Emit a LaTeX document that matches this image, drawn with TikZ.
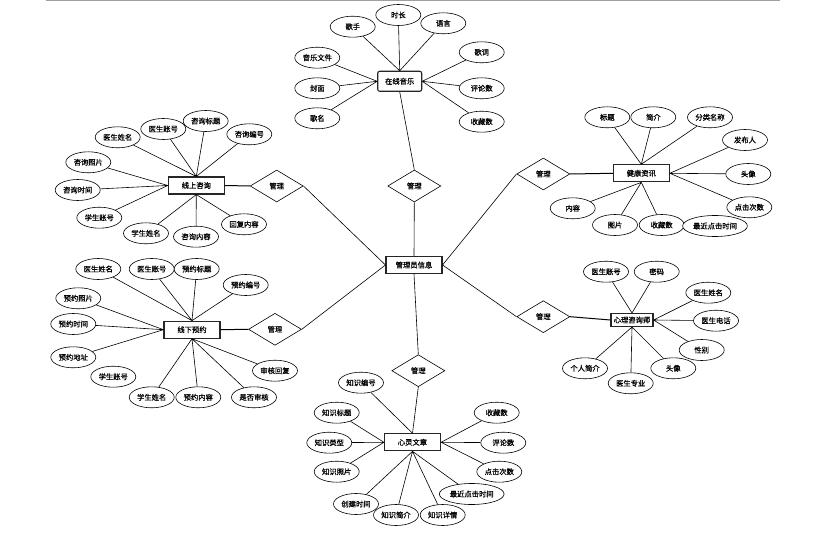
\documentclass[tikz,border=0pt]{standalone}
\usepackage{fontspec}
\newfontfamily\cjk[FakeBold=0.8]{Noto Sans CJK SC}
\usetikzlibrary{shapes.geometric}

\tikzset{
  cjktext/.style={font=\cjk\fontsize{7.3}{8}\selectfont},
  entity/.style={cjktext,draw=black!85,line width=1.1pt,fill=white,minimum width=56pt,minimum height=17pt,inner sep=1pt},
  attr/.style={cjktext,ellipse,draw,line width=0.6pt,fill=white,minimum width=45pt,minimum height=21pt,inner sep=1pt},
  rel/.style={cjktext,diamond,draw,line width=0.6pt,fill=white,minimum width=53pt,minimum height=32pt,inner sep=0pt},
  link/.style={line width=0.6pt}
}

\begin{document}
\begin{tikzpicture}[x=1pt,y=-1pt]
  \useasboundingbox (0,0) rectangle (840,534);
  \draw[gray!75,line width=2pt] (46,0.5) -- (780,0.5);

  % centre
  \node at (414,265) [entity] (admin) {管理员信息};

  \node at (414.3,186) [rel] (mgMusic) {管理};
  \node at (276.7,186) [rel] (mgOnline) {管理};
  \node at (275,329.3) [rel] (mgOffline) {管理};
  \node at (543.3,174) [rel] (mgHealth) {管理};
  \node at (543.3,316.7) [rel] (mgDoctor) {管理};
  \node at (418.3,370.7) [rel] (mgArticle) {管理};

  \draw[link] (admin.north) -- (mgMusic.south);
  \draw[link] (admin.west) -- (mgOnline.east);
  \draw[link] (admin.west) -- (mgOffline.east);
  \draw[link] (admin.east) -- (mgHealth.west);
  \draw[link] (admin.east) -- (mgDoctor.west);
  \draw[link] (admin.south) -- (mgArticle.north);

  % music
  \node at (399.7,81.3) [entity,rounded corners=2pt,minimum width=44pt,minimum height=20pt] (music) {在线音乐};
  \draw[link] (mgMusic.north) -- (music.south);

  \node at (352.7,26.7) [attr] (mSinger) {歌手};
  \node at (398.3,15) [attr] (mLength) {时长};
  \node at (443.3,23.3) [attr] (mLang) {语言};
  \node at (317.3,57.7) [attr] (mFile) {音乐文件};
  \node at (317.3,88.3) [attr] (mCover) {封面};
  \node at (317.3,118.3) [attr] (mName) {歌名};
  \node at (481.7,52.3) [attr] (mLyric) {歌词};
  \node at (481.7,88.3) [attr] (mComment) {评论数};
  \node at (481.7,121.7) [attr] (mFav) {收藏数};

  \draw[link] (music.north) -- (mSinger) (music.north) -- (mLength) (music.north) -- (mLang);
  \draw[link] (music.west) -- (mFile) (music.west) -- (mCover) (music.west) -- (mName);
  \draw[link] (music.east) -- (mLyric) (music.east) -- (mComment) (music.east) -- (mFav);

  % online consulting
  \node at (196.3,185.5) [entity] (online) {线上咨询};
  \draw[link,line width=1pt] (online.east) -- (mgOnline.west);

  \node at (117.7,137.3) [attr] (oDocName) {医生姓名};
  \node at (163.3,129) [attr] (oDocId) {医生账号};
  \node at (205.7,121) [attr] (oTitle) {咨询标题};
  \node at (249.3,134.3) [attr] (oNo) {咨询编号};
  \node at (88.3,162.3) [attr] (oPhoto) {咨询照片};
  \node at (77.7,190) [attr] (oTime) {咨询时间};
  \node at (99.3,217.7) [attr] (oStuId) {学生账号};
  \node at (146,233.3) [attr] (oStuName) {学生姓名};
  \node at (196,236.7) [attr] (oContent) {咨询内容};
  \node at (244,224.3) [attr] (oReply) {回复内容};

  \draw[link] (online.north) -- (oDocName) (online.north) -- (oDocId) (online.north) -- (oTitle) (online.north) -- (oNo);
  \draw[link] (online.west) -- (oPhoto) (online.west) -- (oTime) (online.west) -- (oStuId);
  \draw[link] (online.south) -- (oStuName) (online.south) -- (oContent) (online.south) -- (oReply);

  % offline appointment
  \node at (192,329.7) [entity] (offline) {线下预约};
  \draw[link,line width=1pt] (offline.east) -- (mgOffline.west);

  \node at (98.3,269) [attr] (fDocName) {医生姓名};
  \node at (151.7,269) [attr] (fDocId) {医生账号};
  \node at (196.7,269) [attr] (fTitle) {预约标题};
  \node at (245.7,285) [attr] (fNo) {预约编号};
  \node at (78.3,298.3) [attr] (fPhoto) {预约照片};
  \node at (73.3,324) [attr] (fTime) {预约时间};
  \node at (73.3,357.3) [attr] (fAddr) {预约地址};
  \node at (113.3,376.7) [attr] (fStuId) {学生账号};
  \node at (151.7,397.3) [attr] (fStuName) {学生姓名};
  \node at (198.3,397.3) [attr] (fContent) {预约内容};
  \node at (254,397.3) [attr] (fChecked) {是否审核};
  \node at (275,370.7) [attr] (fReply) {审核回复};

  \draw[link] (offline.north) -- (fDocName) (offline.north) -- (fDocId) (offline.north) -- (fTitle) (offline.north) -- (fNo);
  \draw[link] (offline.west) -- (fPhoto) (offline.west) -- (fTime) (offline.west) -- (fAddr);
  \draw[link] (offline.south) -- (fStuName) (offline.south) -- (fContent) (offline.south) -- (fChecked) (offline.south) -- (fReply);

  % health news
  \node at (641.3,173.3) [entity] (health) {健康资讯};
  \draw[link,line width=1pt] (health.west) -- (mgHealth.east);

  \node at (607.3,117.3) [attr] (hTitle) {标题};
  \node at (653.3,117.3) [attr] (hIntro) {简介};
  \node at (710,117.3) [attr] (hCat) {分类名称};
  \node at (745,140) [attr] (hAuthor) {发布人};
  \node at (748.3,174) [attr] (hAvatar) {头像};
  \node at (749.3,207.3) [attr] (hClicks) {点击次数};
  \node at (572.7,208.3) [attr] (hContent) {内容};
  \node at (615,225) [attr] (hImage) {图片};
  \node at (661.7,225) [attr] (hFav) {收藏数};
  \node at (715,226) [attr] (hLast) {最近点击时间};

  \draw[link] (health.north) -- (hTitle) (health.north) -- (hIntro) (health.north) -- (hCat);
  \draw[link] (health.east) -- (hAuthor) (health.east) -- (hAvatar) (health.east) -- (hClicks);
  \draw[link] (health.south) -- (hContent) (health.south) -- (hImage) (health.south) -- (hFav);

  % counsellor
  \node at (632,320) [entity,minimum width=42pt,minimum height=13pt,inner sep=0pt] (doctor) {心理咨询师};
  \draw[link,line width=1pt] (doctor.west) -- (mgDoctor.east);

  \node at (606,271.7) [attr] (dId) {医生账号};
  \node at (656.7,271.7) [attr] (dPwd) {密码};
  \node at (708.3,292.7) [attr] (dName) {医生姓名};
  \node at (716,320.7) [attr] (dPhone) {医生电话};
  \node at (701.7,350) [attr] (dGender) {性别};
  \node at (673.3,368.3) [attr] (dAvatar) {头像};
  \node at (630.7,383.3) [attr] (dMajor) {医生专业};
  \node at (585,368.3) [attr] (dIntro) {个人简介};

  \draw[link] (doctor.north) -- (dId) (doctor.north) -- (dPwd);
  \draw[link] (doctor.east) -- (dName) (doctor.east) -- (dPhone) (doctor.east) -- (dGender);
  \draw[link] (doctor.south) -- (dAvatar) (doctor.south) -- (dMajor) (doctor.south) -- (dIntro);

  % articles
  \node at (412.5,442.3) [entity] (article) {心灵文章};
  \draw[link] (mgArticle.south) -- (article.north);

  \node at (361,382.7) [attr] (aNo) {知识编号};
  \node at (336.7,412.7) [attr] (aTitle) {知识标题};
  \node at (329.3,442.7) [attr] (aType) {知识类型};
  \node at (336.7,471.7) [attr] (aPhoto) {知识照片};
  \node at (356,504) [attr] (aCreated) {创建时间};
  \node at (396,515) [attr] (aIntro) {知识简介};
  \node at (442.7,515) [attr] (aDetail) {知识详情};
  \node at (471.7,494) [attr] (aLast) {最近点击时间};
  \node at (499.3,471.7) [attr] (aClicks) {点击次数};
  \node at (503.3,442.7) [attr] (aComment) {评论数};
  \node at (496.7,412.7) [attr] (aFav) {收藏数};

  \draw[link] (article.north) -- (aNo);
  \draw[link] (article.west) -- (aTitle) (article.west) -- (aType) (article.west) -- (aPhoto);
  \draw[link] (article.south) -- (aCreated) (article.south) -- (aIntro) (article.south) -- (aDetail) (article.south) -- (aLast);
  \draw[link] (article.east) -- (aFav) (article.east) -- (aComment) (article.east) -- (aClicks);
\end{tikzpicture}
\end{document}
